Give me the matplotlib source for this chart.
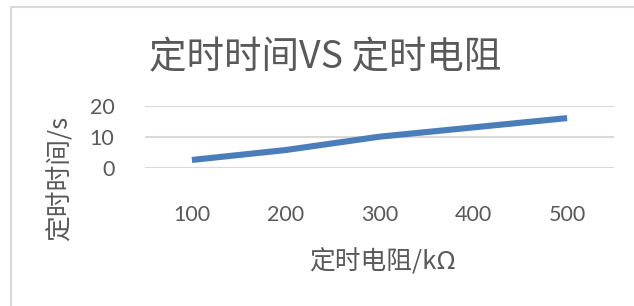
import matplotlib
matplotlib.use("Agg")
import matplotlib.pyplot as plt
from matplotlib.patches import Rectangle

# data
resistance = ["100", "200", "300", "400", "500"]  # kΩ, category axis
timing = [2.5, 5.7, 10.0, 13.0, 16.0]  # seconds
y_ticks = [0, 10, 20]

plt.rcParams['font.family'] = ['Lato', 'Noto Sans CJK SC', 'DejaVu Sans']
text_color = '#595959'
cjk = ['Noto Sans CJK SC', 'DejaVu Sans']

fig = plt.figure(figsize=(6.34, 3.06), dpi=100)
ax = fig.add_axes([145 / 634, 1 - 167.7 / 306, (614 - 145) / 634, 62 / 306])

x = list(range(len(resistance)))
ax.plot(x, timing, color='#4A7EBB', linewidth=4.4, solid_capstyle='butt', zorder=3)

ax.set_xlim(-0.5, len(resistance) - 0.5)
ax.set_ylim(0, 20)
ax.set_yticks(y_ticks)
ax.set_xticks(x)
ax.set_xticklabels(resistance)
ax.grid(axis='y', color='#D9D9D9', linewidth=1.5)
ax.set_axisbelow(True)
for s in ax.spines.values():
    s.set_visible(False)
ax.tick_params(axis='both', length=0, labelsize=15.5, colors=text_color)
ax.tick_params(axis='x', pad=26.5)
ax.tick_params(axis='y', pad=22)

# axis titles and chart title
fig.text(382 / 634, 1 - 262 / 306, '定时电阻/kΩ', ha='center', va='center',
         fontsize=18.5, color=text_color, family=cjk, fontweight='light')
fig.text(60 / 634, 1 - 178 / 306, '定时时间/s', ha='center', va='center', rotation=90,
         fontsize=18.5, color=text_color, family=cjk, fontweight='light')
fig.text(325 / 634, 1 - 58 / 306, '定时时间VS 定时电阻', ha='center', va='center',
         fontsize=27, color=text_color, family=cjk, fontweight='light')

# light chart border (cut off at right and bottom like the screenshot)
fig.patches.append(Rectangle((11 / 634, -0.1), 1.0, 1.1 - 7 / 306, transform=fig.transFigure,
                             fill=False, edgecolor='#D9D9D9', linewidth=1.5))

fig.savefig('out.png', dpi=100)
